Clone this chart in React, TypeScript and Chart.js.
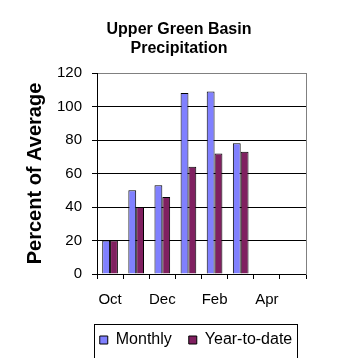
import React, { useEffect, useRef } from "react";
import { Chart, registerables } from "chart.js";

Chart.register(...registerables);

const categories = ["Oct", "Nov", "Dec", "Jan", "Feb", "Mar", "Apr", "May"];
const monthly = [20, 50, 53, 108, 109, 78, null, null];
const yearToDate = [20, 40, 46, 64, 72, 73, null, null];
const yTicks = [0, 20, 40, 60, 80, 100, 120];

const FONT = "Arial, 'Liberation Sans', sans-serif";

const legendPlacement = {
  id: "legendPlacement",
  afterLayout(chart: any) {
    const lg = chart.legend;
    if (!lg) return;
    const shift = 17;
    lg.left += shift;
    lg.right += shift;
  },
  afterDraw(chart: any) {
    const lg = chart.legend;
    if (!lg || !lg.legendHitBoxes || !lg.legendHitBoxes.length) return;
    const boxes = lg.legendHitBoxes;
    const first = boxes[0];
    const last = boxes[boxes.length - 1];
    const x1 = first.left - 6;
    const x2 = last.left + last.width + 5;
    const y1 = first.top - 8;
    const y2 = first.top + first.height + 10;
    const ctx = chart.ctx;
    ctx.save();
    ctx.strokeStyle = "#000";
    ctx.lineWidth = 1;
    ctx.strokeRect(Math.round(x1) + 0.5, Math.round(y1) + 0.5, Math.round(x2 - x1), Math.round(y2 - y1));
    ctx.restore();
  },
};

export default function App() {
  const ref = useRef<HTMLCanvasElement>(null);
  useEffect(() => {
    if (!ref.current) return;
    const chart = new Chart(ref.current, {
      type: "bar",
      data: {
        labels: categories,
        datasets: [
          {
            label: "Monthly",
            data: monthly,
            backgroundColor: "#8080FF",
            borderColor: "#000",
            borderWidth: 1,
            categoryPercentage: 0.6,
            barPercentage: 1,
          },
          {
            label: "Year-to-date",
            data: yearToDate,
            backgroundColor: "#802060",
            borderColor: "#000",
            borderWidth: 1,
            categoryPercentage: 0.6,
            barPercentage: 1,
          },
        ],
      },
      options: {
        responsive: false,
        animation: false,
        layout: { padding: { left: 0, right: 0, top: 0, bottom: 0 } },
        plugins: {
          title: {
            display: true,
            text: ["Upper Green Basin", "Precipitation"],
            color: "#000",
            font: { family: FONT, size: 16, weight: "bold", lineHeight: 1.1875 },
            padding: { top: 20, bottom: 15 },
          },
          legend: {
            position: "bottom",
            fullSize: true,
            labels: {
              color: "#000",
              font: { family: FONT, size: 16 },
              boxWidth: 8,
              boxHeight: 8,
              padding: 17,
              generateLabels: (c: any) =>
                c.data.datasets.map((ds: any, i: number) => ({
                  text: ds.label,
                  fillStyle: ds.backgroundColor,
                  strokeStyle: "#000",
                  lineWidth: 1,
                  datasetIndex: i,
                  hidden: false,
                })),
            },
          },
          tooltip: { enabled: false },
        },
        scales: {
          x: {
            offset: true,
            afterFit: (s: any) => {
              s.height = 41;
            },
            grid: {
              offset: true,
              drawOnChartArea: false,
              color: "#000",
              tickLength: 5,
            },
            border: { color: "#000", width: 1 },
            ticks: {
              color: "#000",
              font: { family: FONT, size: 15 },
              autoSkip: false,
              maxRotation: 0,
              padding: 12,
              callback: (_v: any, i: number) => (i % 2 === 0 ? categories[i] : ""),
            },
          },
          y: {
            min: 0,
            max: 120,
            afterBuildTicks: (s: any) => {
              s.ticks = yTicks.map((v) => ({ value: v }));
            },
            afterFit: (s: any) => {
              s.width = 97;
            },
            grid: {
              color: (ctx: any) => (ctx.tick && ctx.tick.value === 120 ? "#808080" : "#000"),
              tickColor: "#000",
              tickLength: 5,
            },
            border: { color: "#000", width: 1 },
            ticks: {
              color: "#000",
              font: { family: FONT, size: 15 },
              padding: 10,
            },
            title: {
              display: true,
              text: "Percent of Average",
              color: "#000",
              font: { family: FONT, size: 20, weight: "bold", lineHeight: 1.2 },
              padding: { top: 23, bottom: 0 },
            },
          },
          y2: {
            position: "right",
            display: true,
            min: 0,
            max: 120,
            grid: { drawOnChartArea: false, drawTicks: false },
            border: { color: "#808080", width: 1 },
            ticks: { display: false },
            afterFit: (s: any) => {
              s.width = 52;
            },
          },
        },
      },
      plugins: [legendPlacement],
    });
    return () => chart.destroy();
  }, []);
  return (
    <div style={{ position: "fixed", left: 0, top: 0, width: 358, height: 358, background: "#fff" }}>
      <canvas ref={ref} width={358} height={358} style={{ display: "block" }} />
    </div>
  );
}
